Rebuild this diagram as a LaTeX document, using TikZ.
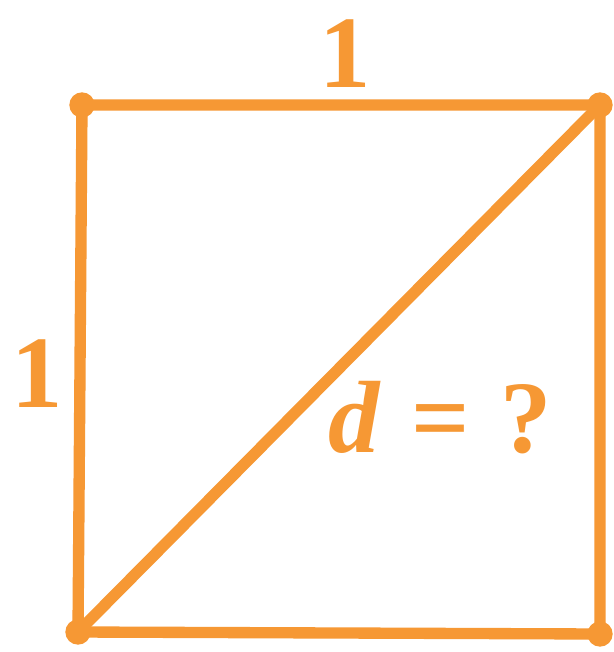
\documentclass[tikz,border=0pt]{standalone}
\usepackage{fontspec}
\setmainfont{Liberation Serif}
\definecolor{org}{RGB}{246,152,52}
\begin{document}
\begin{tikzpicture}[x=0.75pt,y=-0.75pt,
  edge/.style={draw=org,line width=8.5pt,line cap=round,line join=round},
  dot/.style={circle,fill=org,inner sep=0pt,minimum size=19pt},
  lab/.style={text=org,font=\fontsize{77}{80}\selectfont\bfseries,inner sep=0pt,anchor=base}]
\useasboundingbox (0,0) rectangle (613,652);
\fill[white] (0,0) rectangle (613,652);
\coordinate (tl) at (82,105);
\coordinate (tr) at (600,105);
\coordinate (bl) at (78,632);
\coordinate (br) at (600,634);
\draw[edge] (tl) -- (tr) -- (br) -- (bl) -- cycle;
\draw[edge] (bl) -- (tr);
\foreach \p in {tl,tr,bl,br} \node[dot] (d\p) at (\p) {};
\node[lab] (top) at (345,88) {1};
\node[lab] (left) at (37,407) {1};
\node[lab,anchor=base west] (dq) at (328,452) {\textit{d}\hspace{0.3em}=\hspace{0.3em}?};
\end{tikzpicture}
\end{document}
